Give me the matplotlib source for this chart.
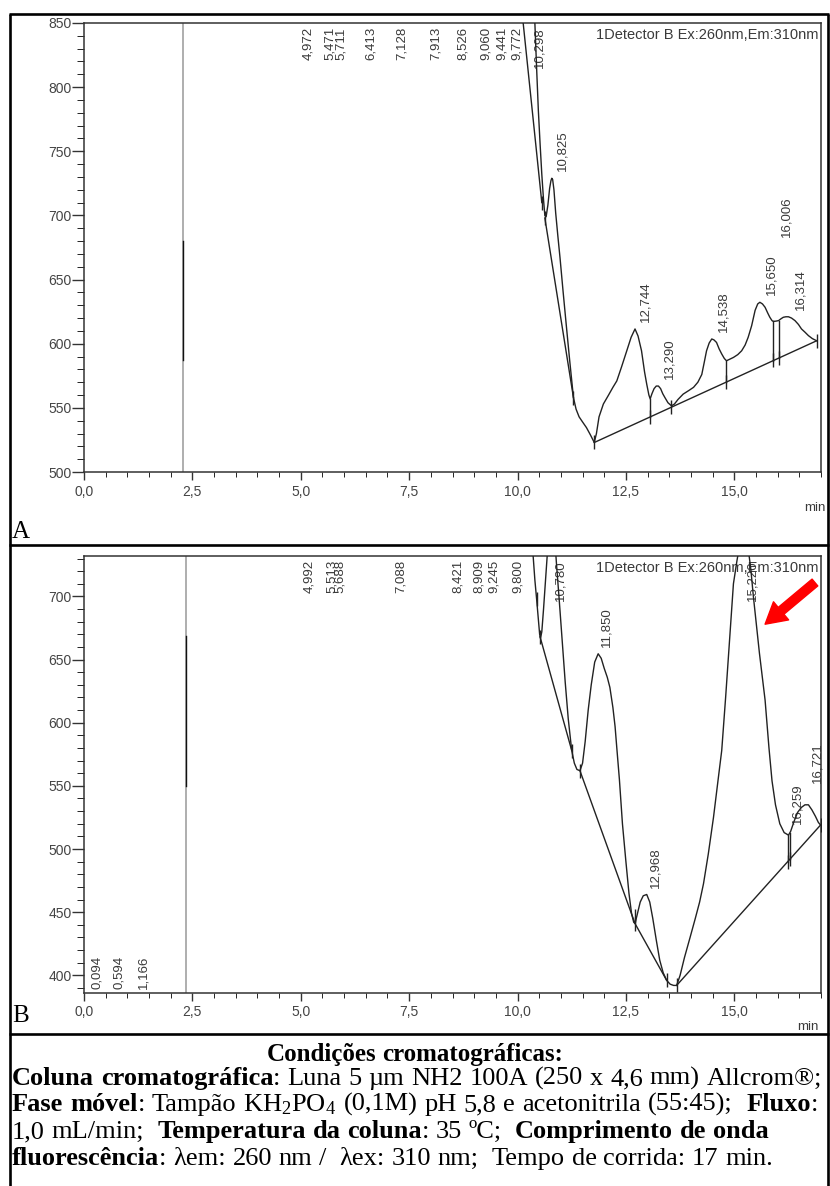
import re
import numpy as np
import matplotlib
matplotlib.use("Agg")
import matplotlib.pyplot as plt
from matplotlib.ticker import MultipleLocator, FuncFormatter

plt.rcParams['font.family'] = ['Liberation Sans', 'DejaVu Sans']
plt.rcParams['mathtext.fontset'] = 'custom'
plt.rcParams['mathtext.rm'] = 'Liberation Serif'
plt.rcParams['mathtext.it'] = 'Liberation Serif:italic'
plt.rcParams['mathtext.bf'] = 'Liberation Serif:bold'

# ---------------- panel A (time, min / signal) ----------------
a_t = [10.38, 10.40, 10.44, 10.48, 10.52, 10.56, 10.60, 10.63, 10.66, 10.70,
       10.74, 10.77, 10.79, 10.81, 10.84, 10.88, 10.93, 10.98, 11.05, 11.12,
       11.20, 11.29, 11.35, 11.42, 11.50, 11.59, 11.68, 11.77, 11.82, 11.88,
       11.98, 12.10, 12.20, 12.29, 12.40, 12.52, 12.62, 12.71, 12.78, 12.86,
       12.93, 12.98, 13.03, 13.06, 13.10, 13.15, 13.20, 13.25, 13.30, 13.35,
       13.40, 13.47, 13.55, 13.62, 13.70, 13.82, 13.95, 14.06, 14.16, 14.25,
       14.31, 14.36, 14.42, 14.48, 14.53, 14.59, 14.65, 14.71, 14.77, 14.82,
       14.90, 14.98, 15.08, 15.17, 15.25, 15.32, 15.40, 15.48, 15.54, 15.59,
       15.65, 15.71, 15.77, 15.82, 15.87, 15.90, 15.96, 16.02, 16.08, 16.13,
       16.19, 16.25, 16.32, 16.40, 16.48, 16.55, 16.63, 16.71, 16.80, 16.90]
a_y = [868, 850, 815, 782, 756, 732, 712, 700, 699, 708,
       721, 727, 729, 728, 720, 702, 684, 667, 641, 616,
       588, 558, 549, 543, 539, 534.6, 529, 523, 530, 543,
       553, 560, 566, 571, 582, 594.5, 605, 611.5, 606, 594.5,
       578, 568.5, 560, 557, 561, 565, 567, 567, 565, 561,
       558, 554, 551.6, 553, 556.5, 560.7, 563.5, 566, 570, 576,
       586, 594.5, 600.5, 603.7, 603, 601, 596, 592, 588.5, 586.7,
       588, 589.3, 591.5, 594.5, 599, 605, 614, 626, 631, 632.3,
       631, 628.4, 624, 620.6, 618, 617.4, 617.6, 618, 619.5, 620.6,
       621, 621, 620, 618, 615, 611.5, 609, 606.3, 604, 602.3]
a_base_t = [[10.13, 10.56], [10.63, 11.29], [11.77, 16.90]]
a_base_y = [[850, 710], [698, 558], [523, 602.3]]
a_drop_t = [13.06, 14.82, 15.90, 16.02]
a_mark_t = [10.56, 10.63, 11.29, 11.77, 13.06, 13.55, 14.82, 15.90, 16.02, 16.90]
a_mark_y = [710, 698, 558, 523, 543, 551, 570, 587, 589, 602]
a_labels = ["4,972", "5,471", "5,711", "6,413", "7,128", "7,913", "8,526",
            "9,060", "9,441", "9,772", "10,298", "10,825", "12,744", "13,290",
            "14,538", "15,650", "16,006", "16,314"]
a_inj = 2.28
a_inj_dark = (587, 680)

# ---------------- panel B ----------------
b_t = [10.33, 10.36, 10.40, 10.44, 10.48, 10.51, 10.53, 10.56, 10.60, 10.65,
       10.69, 10.78, 10.87, 10.90, 10.96, 11.03, 11.10, 11.17, 11.25, 11.31,
       11.37, 11.44, 11.50, 11.56, 11.63, 11.70, 11.78, 11.86, 11.93, 12.00,
       12.07, 12.13, 12.20, 12.25, 12.29, 12.35, 12.42, 12.50, 12.57, 12.63,
       12.68, 12.71, 12.76, 12.83, 12.90, 12.98, 13.05, 13.12, 13.20, 13.28,
       13.36, 13.44, 13.52, 13.60, 13.67, 13.75, 13.85, 13.98, 14.10, 14.20,
       14.29, 14.40, 14.52, 14.62, 14.71, 14.80, 14.90, 14.98, 15.06, 15.12,
       15.22, 15.32, 15.38, 15.44, 15.58, 15.71, 15.80, 15.87, 15.95, 16.05,
       16.15, 16.25, 16.30, 16.38, 16.46, 16.55, 16.63, 16.71, 16.79, 16.87,
       16.94, 16.99]
b_y = [750, 732, 713, 698, 682, 670, 667, 672, 690, 715,
       735, 790, 740, 725, 698, 665, 632, 603, 578, 568,
       563, 562, 568, 585, 610, 630, 648, 654.6, 651, 643,
       636, 628, 612, 597, 580, 555, 520, 490, 465, 449,
       442, 441, 448, 458, 463, 464, 458, 445, 428, 412,
       402, 396, 393, 392, 392, 400, 414, 430, 445, 458,
       472.6, 496, 525, 553, 578, 620, 670, 710, 728, 740,
       748, 738, 722, 700, 655, 618, 580, 554, 535, 520,
       513, 511, 514, 522, 529, 533, 535, 535, 531, 526,
       521, 519]
b_base_t = [[10.52, 11.25], [11.44, 12.71, 13.44], [13.67, 16.99]]
b_base_y = [[668, 578], [562, 441, 396], [392, 519]]
b_drop_t = [16.23, 16.28]
b_mark_t = [10.44, 10.52, 11.25, 11.44, 12.71, 12.72, 13.44, 13.67, 16.23, 16.28, 16.99]
b_mark_y = [698, 668, 578, 562, 441, 447, 396, 392, 490, 492, 519]
b_labels = ["4,992", "5,513", "5,688", "7,088", "8,421", "8,909", "9,245",
            "9,800", "10,780", "11,850", "12,968", "15,220", "16,259", "16,721"]
b_low_labels = ["0,094", "0,594", "1,166"]
b_inj = 2.35
b_inj_dark = (550, 669)

detector = "1Detector B Ex:260nm,Em:310nm"

W, H = 830, 1186
fig = plt.figure(figsize=(W / 100, H / 100), dpi=100)

ov = fig.add_axes([0, 0, 1, 1], zorder=0)
ov.set_xlim(0, W)
ov.set_ylim(H, 0)
ov.axis('off')

INK = '#222222'
LBL = '#3a3a3a'
PK_FS = 9.5


def comma(v, pos=None):
    return f"{v:.1f}".replace('.', ',')


def make_axes(top, bottom, ylo, yhi):
    ax = fig.add_axes([84 / W, 1 - bottom / H, 737 / W, (bottom - top) / H], zorder=2)
    ax.set_xlim(0, 17)
    ax.set_ylim(ylo, yhi)
    ax.xaxis.set_major_locator(MultipleLocator(2.5))
    ax.xaxis.set_minor_locator(MultipleLocator(0.5))
    ax.yaxis.set_major_locator(MultipleLocator(50))
    ax.yaxis.set_minor_locator(MultipleLocator(10))
    ax.xaxis.set_major_formatter(FuncFormatter(comma))
    for s in ax.spines.values():
        s.set_color('#333333')
        s.set_linewidth(1.1)
    ax.tick_params(axis='both', colors='#333333', labelcolor='#444444', labelsize=10, width=1)
    ax.tick_params(axis='y', which='major', length=8.5, pad=0.5)
    ax.tick_params(axis='y', which='minor', length=5)
    ax.tick_params(axis='x', which='major', length=6, pad=3)
    ax.tick_params(axis='x', which='minor', length=3.5)
    ax.text(0.996, 0.988, detector, transform=ax.transAxes, ha='right', va='top',
            fontsize=10.5, color=LBL, zorder=2)
    return ax


def draw_panel(ax, t, y, base_t, base_y, drop_t, mark_t, mark_y, labels, inj, inj_dark, lifts):
    ylo, yhi = ax.get_ylim()
    ax.axvline(inj, color='#a8a8a8', lw=1.3, zorder=1)
    ax.plot([inj, inj], inj_dark, color='#111111', lw=1.0, zorder=1)
    ax.plot(t, y, color=INK, lw=1.0, zorder=3)
    for bt, by in zip(base_t, base_y):
        ax.plot(bt, by, color=INK, lw=1.0, zorder=3)
    main_t, main_y = base_t[-1], base_y[-1]
    for d in drop_t:
        ax.plot([d, d], [np.interp(d, t, y), np.interp(d, main_t, main_y)],
                color=INK, lw=1.0, zorder=3)
    ax.plot(mark_t, mark_y, ls='none', marker='|', ms=10, mew=1.0, color=INK, zorder=4)
    ta = np.array(t)
    ya = np.array(y)
    for lbl in labels:
        tv = float(lbl.replace(',', '.'))
        win = (ta >= tv - 0.08) & (ta <= tv + 0.08)
        if tv < ta[0] or not win.any() or ya[win].max() >= yhi:
            ax.annotate(lbl, (tv, yhi), xytext=(6.5, -3), textcoords='offset points',
                        rotation=90, ha='center', va='top', fontsize=PK_FS,
                        color=LBL, zorder=2, annotation_clip=False)
        else:
            ax.annotate(lbl, (tv, ya[win].max() + lifts.get(lbl, 0)), xytext=(6.5, 5),
                        textcoords='offset points', rotation=90, ha='center',
                        va='bottom', fontsize=PK_FS, color=LBL, zorder=2)


axA = make_axes(23, 472, 500, 850)
draw_panel(axA, a_t, a_y, a_base_t, a_base_y, a_drop_t, a_mark_t, a_mark_y,
           a_labels, a_inj, a_inj_dark, {"16,006": 58})

axB = make_axes(556, 993, 386, 732)
draw_panel(axB, b_t, b_y, b_base_t, b_base_y, b_drop_t, b_mark_t, b_mark_y,
           b_labels, b_inj, b_inj_dark, {"16,721": 12})
for lbl in b_low_labels:
    axB.annotate(lbl, (float(lbl.replace(',', '.')), 386), xytext=(6.5, 3),
                 textcoords='offset points', rotation=90, ha='center', va='bottom',
                 fontsize=PK_FS, color=LBL, zorder=2)
axB.annotate('', xy=(15.71, 678), xytext=(16.86, 711),
             arrowprops=dict(arrowstyle='simple,head_length=0.75,head_width=0.85,tail_width=0.32',
                             color='#ff0000', mutation_scale=20, shrinkA=0, shrinkB=0),
             zorder=6, annotation_clip=False)

# min labels
ov.text(815, 508, 'min', ha='center', va='center', fontsize=9.5, color=LBL)
ov.text(808, 1027, 'min', ha='center', va='center', fontsize=9.5, color=LBL)

# table frame
for xs, ys in [([9, 829], [14, 14]), ([10, 10], [14, H]), ([828, 828], [14, H]),
               ([9, 829], [545, 545]), ([9, 829], [1034, 1034])]:
    ov.plot(xs, ys, color='black', lw=1.9, solid_capstyle='butt')

SERIF = 'Liberation Serif'
FS = 19
ov.text(12, 538, 'A', family=SERIF, fontsize=18, ha='left', va='baseline')
ov.text(12, 1022, 'B', family=SERIF, fontsize=18, ha='left', va='baseline')

renderer = fig.canvas.get_renderer()


def text_w(s, bold, size):
    tt = ov.text(0, 0, s, family=SERIF, fontsize=size, weight='bold' if bold else 'normal')
    w = tt.get_window_extent(renderer=renderer).width
    tt.remove()
    return w


def rich_line(parts, x0, base, size=FS, right=None, center=None):
    space_w = {b: text_w('n n', b, size) - text_w('nn', b, size) for b in (False, True)}
    toks = []
    for seg, bold in parts:
        for word, sp in re.findall(r'(\S+)(\s*)', seg):
            toks.append((word, bold, len(sp)))
    widths = [text_w(w, b, size) for w, b, _ in toks]
    natural = sum(widths) + sum(n * space_w[b] for _, b, n in toks[:-1])
    extra = 0.0
    nsp = sum(n for _, _, n in toks[:-1])
    if right is not None and nsp:
        extra = (right - x0 - natural) / nsp
    if center is not None:
        x0 = center - natural / 2
    x = x0
    for (word, bold, n), w in zip(toks, widths):
        ov.text(x, base, word, family=SERIF, fontsize=size,
                weight='bold' if bold else 'normal', ha='left', va='baseline')
        x += w + n * (space_w[bold] + extra)


rich_line([("Condições cromatográficas:", True)], 0, 1061, size=18, center=415)
rich_line([("Coluna cromatográfica", True),
           (": Luna 5 µm NH2 100A (250 x 4,6 mm) Allcrom®;", False)], 12, 1085, right=822)
rich_line([("Fase móvel", True),
           (": Tampão KH$_2$PO$_4$ (0,1M) pH 5,8 e acetonitrila (55:45);  ", False),
           ("Fluxo", True), (":", False)], 12, 1111, right=818)
rich_line([("1,0 mL/min;  ", False), ("Temperatura da coluna", True),
           (": 35 ºC;  ", False), ("Comprimento de onda", True)], 12, 1138)
rich_line([("fluorescência", True),
           (": λem: 260 nm /  λex: 310 nm;  Tempo de corrida: 17 min.", False)], 12, 1165)

fig.savefig('out.png', dpi=100)
